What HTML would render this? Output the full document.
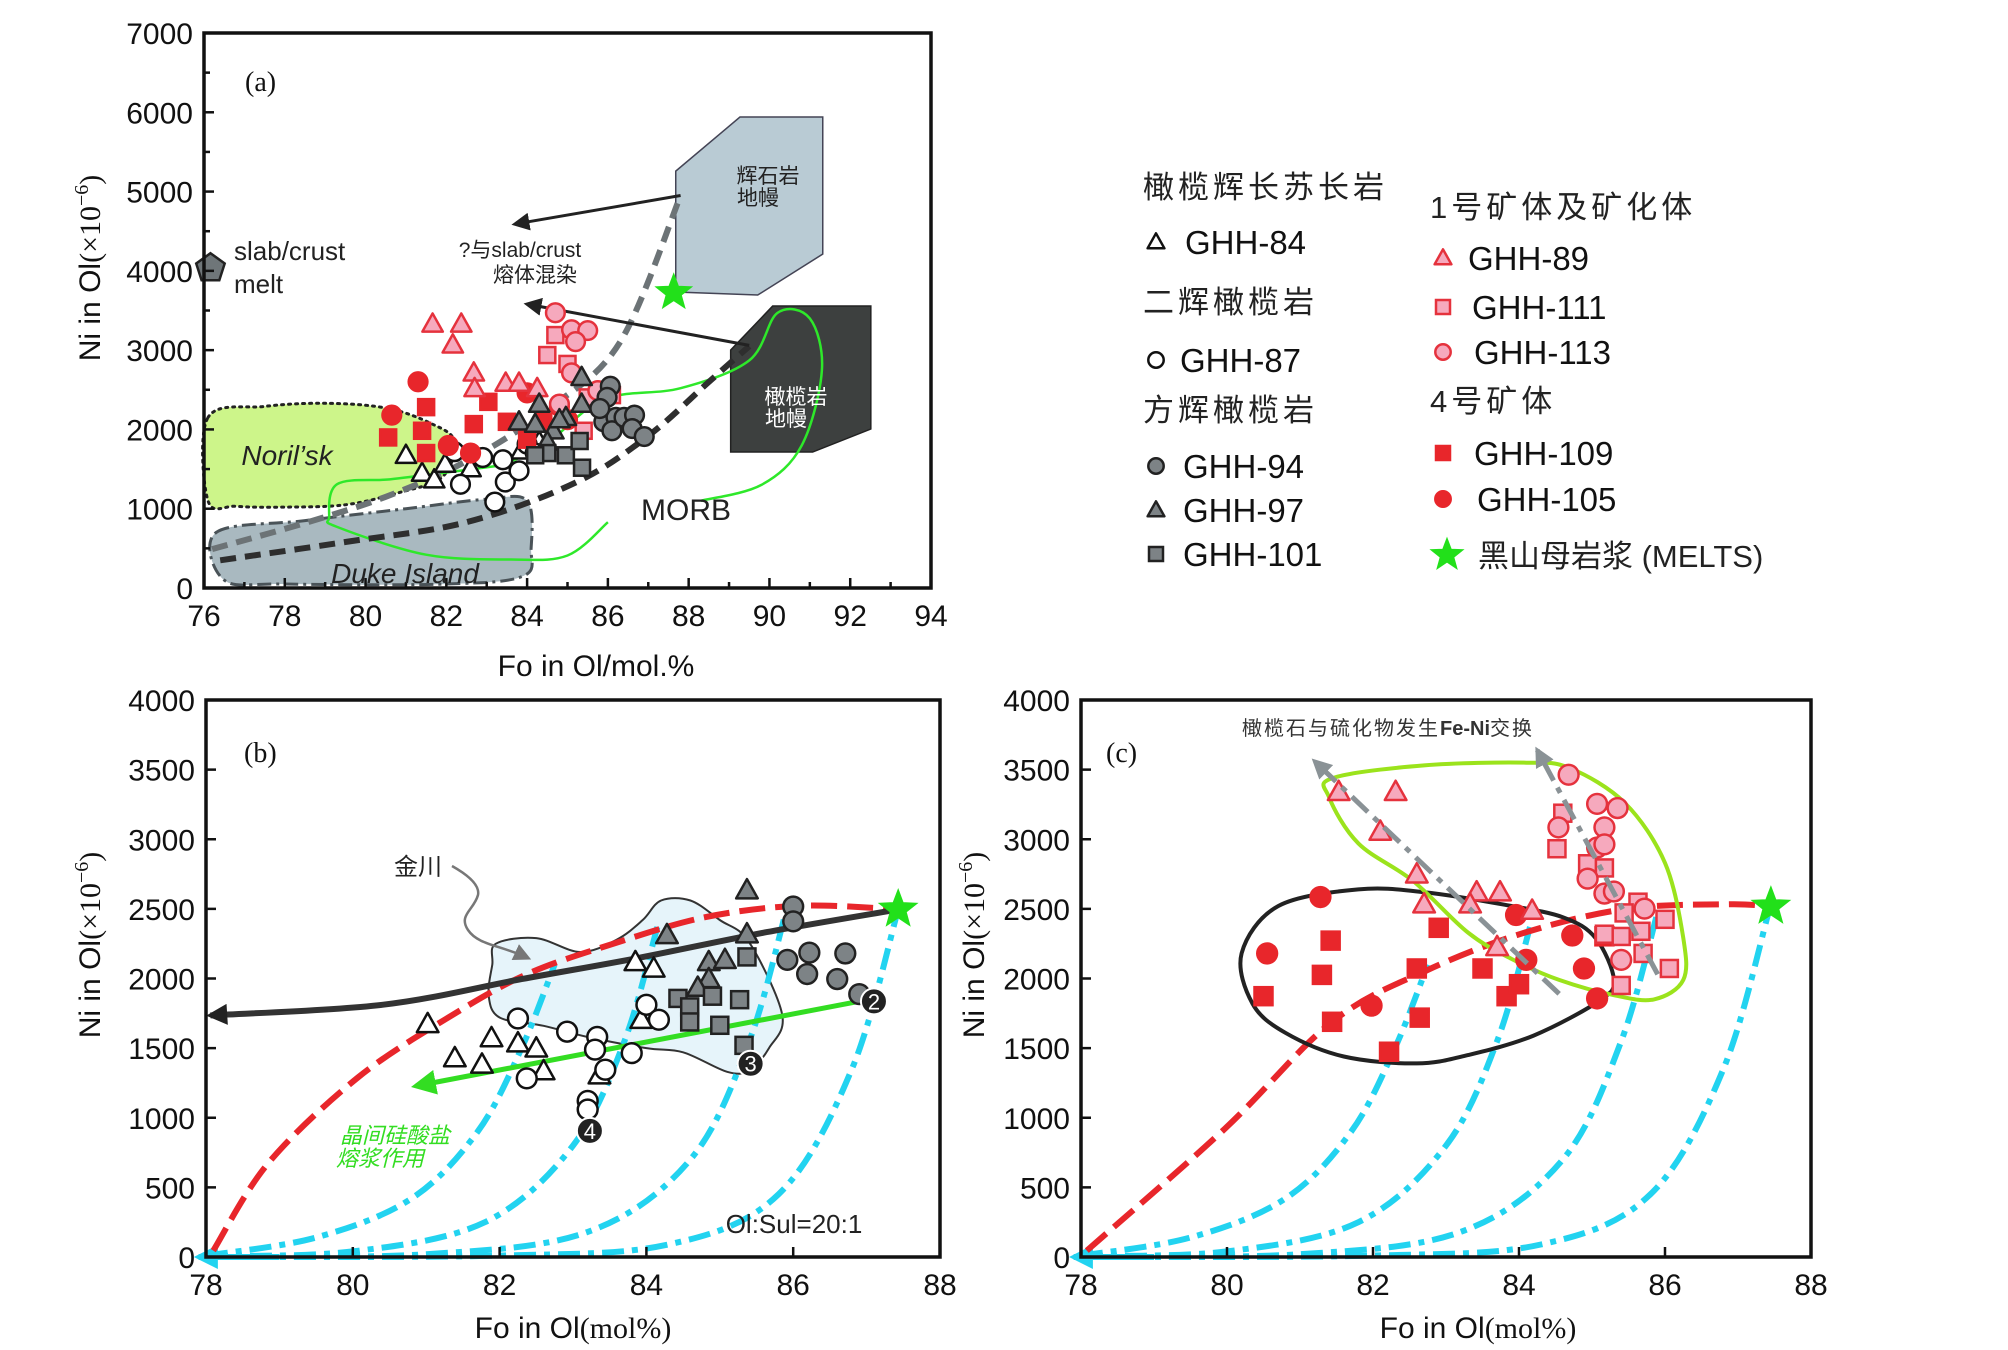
<!DOCTYPE html>
<html><head><meta charset="utf-8">
<style>
html,body{margin:0;padding:0;background:#fff;}
svg{display:block;}
text{font-family:"Liberation Sans","Noto Sans CJK SC",sans-serif;}
.serif{font-family:"Liberation Serif","Noto Serif CJK SC",serif;}
</style></head>
<body>
<svg id="fig" width="2008" height="1350" viewBox="0 0 2008 1350" xmlns="http://www.w3.org/2000/svg">
<defs>
<marker id="ahBlack" viewBox="0 0 10 10" refX="8" refY="5" markerWidth="6" markerHeight="6" orient="auto-start-reverse"><path d="M0,0 L10,5 L0,10 z" fill="#222"/></marker>
<marker id="ahBlackSm" viewBox="0 0 10 10" refX="8" refY="5" markerWidth="4" markerHeight="3.5" orient="auto-start-reverse"><path d="M0,0 L10,5 L0,10 z" fill="#222"/></marker>
<marker id="ahGreen" viewBox="0 0 10 10" refX="8" refY="5" markerWidth="5" markerHeight="5" orient="auto-start-reverse"><path d="M0,0 L10,5 L0,10 z" fill="#33dd22"/></marker>
<marker id="ahGray" viewBox="0 0 10 10" refX="8" refY="5" markerWidth="4" markerHeight="4" orient="auto-start-reverse"><path d="M0,0 L10,5 L0,10 z" fill="#8a9296"/></marker>
<marker id="ahGrayLine" viewBox="0 0 10 10" refX="8" refY="5" markerWidth="7" markerHeight="7" orient="auto-start-reverse"><path d="M0,0 L10,5 L0,10 z" fill="#777"/></marker>
<marker id="ahCyan" viewBox="0 0 10 10" refX="8" refY="5" markerWidth="4" markerHeight="4" orient="auto-start-reverse"><path d="M0,0 L10,5 L0,10 z" fill="#22d3f0"/></marker>
</defs>
<g id="pa"></g>
<g id="pb"></g>
<g id="pc"></g>
<g id="legend"></g>
</svg>
<script>
// ---------- Panel (a) data ----------
const aXTicks = [76,78,80,82,84,86,88,90,92,94];
const aYTicks = [0,1000,2000,3000,4000,5000,6000,7000];
const aGHH89 = [[81.66,3330],[82.37,3330],[82.16,3067],[82.68,2713],[82.7,2517],[83.47,2585],[83.8,2585],[84.25,2517]];
const aGHH111 = [[84.7,3190],[84.5,2938],[85.0,2826],[85.5,2404],[86.1,2433],[85.4,1983]];
const aGHH113 = [[84.7,3472],[85.1,3258],[85.5,3247],[85.2,3107],[85.1,2713],[84.8,2320],[85.75,2489]];
const aGHH109 = [[80.56,1899],[81.4,1983],[81.5,2281],[82.68,2067],[83.04,2348],[83.5,2096],[81.5,1702],[84.0,1871],[84.4,2096]];
const aGHH105 = [[81.3,2601],[80.65,2180],[82.05,1798],[82.6,1702],[84.0,2461],[84.8,2292],[85.0,2124]];
const aGHH84 = [[81.0,1674],[81.4,1449],[81.7,1365],[81.97,1562],[82.6,1506],[83.86,1730],[84.3,1843]];
const aGHH87 = [[82.2,1719],[82.35,1309],[82.9,1646],[83.4,1618],[83.46,1337],[83.8,1478],[83.2,1084],[84.0,1815],[84.2,1702]];
const aGHH97 = [[83.8,2096],[84.2,2067],[84.3,2320],[84.65,1983],[84.96,2152],[85.35,2657],[85.35,2320],[84.8,2124],[84.5,1843]];
const aGHH101 = [[84.5,1702],[84.96,1674],[85.3,1854],[85.36,1517],[84.2,1674]];
const aGHH94 = [[86.06,2545],[85.98,2404],[85.9,2096],[86.2,2152],[86.1,1983],[86.4,2152],[86.66,2180],[86.6,2011],[86.9,1910],[85.8,2264]];
const aStar = [87.63,3725];
const aSlab = [76.16,4034];
const aPyroxenite = [[87.68,5258],[89.27,5940],[91.32,5940],[91.32,4212],[89.71,3695],[87.68,3733]];
const aPeridotite = [[89.04,3001],[90.08,3556],[92.51,3556],[92.51,2005],[91.07,1715],[89.04,1715]];
const aNorilsk = [[76.1,2150],[77.5,2290],[79,2330],[80.5,2270],[81.6,2080],[82.2,1850],[81.9,1400],[80.8,1200],[79.5,1050],[78.0,1020],[76.8,1030],[76.1,1100]];
const aDuke = [[76.3,700],[78.5,850],[81,1000],[83.0,1120],[84.0,1100],[84.1,500],[83.9,150],[82,50],[78,50],[76.5,100]];
const aMORB = [[83.4,1550],[84.5,1830],[85.9,2380],[87.8,2520],[89.5,2870],[90.2,3470],[91.0,3400],[91.3,2750],[90.8,1800],[89.8,1300],[88.3,1100]];
const aMORB2 = [[86.0,830],[85.0,410],[83.6,360],[81.5,420],[79.3,770],[79.1,900],[79.3,1310],[80.6,1370],[81.9,1450],[83.4,1550]];
const aGrayDash = [[76.2,490],[78.5,820],[80.5,1150],[82.5,1600],[84.5,2250],[86.3,3100],[87.8,4950]];
const aBlackDash = [[76.4,350],[79.5,580],[82.5,830],[85.2,1330],[87.0,1920],[88.5,2600],[89.5,3050]];

// ---------- Panel (b) data ----------
const bXTicks = [78,80,82,84,86,88];
const bYTicks = [0,500,1000,1500,2000,2500,3000,3500,4000];
const bGHH84 = [[81.02,1673],[81.39,1428],[81.76,1382],[81.89,1572],[82.25,1535],[82.5,1498],[82.6,1335],[83.36,1305],[83.93,1704],[83.85,2118],[84.1,2072]];
const bGHH87 = [[82.25,1713],[82.37,1283],[82.92,1618],[83.33,1581],[83.3,1489],[83.44,1345],[83.2,1121],[83.2,1059],[83.8,1464],[84.0,1811],[84.17,1704]];
const bGHH97 = [[85.37,2634],[85.37,2318],[84.28,2312],[84.85,2118],[85.07,2134],[84.85,1996],[84.7,1934]];
const bGHH101 = [[85.37,2155],[84.43,1857],[84.59,1796],[84.9,1873],[85.27,1848],[84.59,1688],[85.0,1664],[85.33,1520]];
const bGHH94 = [[86.0,2517],[86.0,2410],[85.92,2134],[86.22,2186],[86.19,2032],[86.71,2180],[86.6,1996],[86.9,1888]];
const bStar = [87.43,2496];
const bNumbered = [[87.1,1836],[85.42,1388],[83.23,906]];
const bNumberLabels = ["2","3","4"];
const bJinchuan = [[81.95,2250],[82.5,2290],[83.1,2190],[83.6,2280],[83.95,2420],[84.2,2560],[84.6,2560],[85.0,2420],[85.4,2260],[85.85,1740],[85.67,1500],[85.4,1340],[85.1,1330],[84.5,1470],[84.0,1500],[83.2,1580],[82.6,1660],[82.0,1720],[81.85,1880],[81.9,2100]];
const bFractLine = [[87.43,2496],[85.64,2333],[83.9,2149],[82.3,1996],[80.4,1811],[78.06,1735]];
const bRedDash = [[78.1,46],[78.85,675],[80.07,1289],[81.3,1719],[82.35,2026],[83.5,2241],[84.8,2440],[86.1,2523],[87.43,2496]];
const bGreenArrow = [[86.9,1836],[80.86,1228]];

// ---------- Shared mixing curves (b, c) ----------
const mix1 = [[78.0,10],[79.5,140],[80.8,420],[81.7,900],[82.3,1500],[82.75,2100]];
const mix2 = [[78.0,5],[80.0,40],[81.8,250],[83.0,800],[83.7,1550],[84.15,2370]];
const mix3 = [[78.0,0],[81.0,20],[83.2,180],[84.6,700],[85.4,1550],[85.9,2480]];
const mix4 = [[78.0,0],[82.0,10],[84.3,90],[85.8,450],[86.8,1350],[87.43,2496]];

// ---------- Panel (c) data ----------
const cXTicks = [78,80,82,84,86,88];
const cYTicks = [0,500,1000,1500,2000,2500,3000,3500,4000];
const cGHH89 = [[81.53,3340],[82.31,3340],[82.1,3055],[82.6,2748],[82.7,2533],[83.42,2619],[83.74,2619],[84.18,2487],[83.7,2226],[83.33,2533]];
const cGHH111 = [[84.6,3187],[84.52,2932],[84.94,2824],[85.17,2794],[85.63,2548],[85.44,2471],[85.17,2318],[85.4,2302],[85.67,2339],[86.0,2425],[85.7,2180],[86.06,2072],[85.4,1950]];
const cGHH113 = [[84.68,3463],[84.54,3085],[85.07,3254],[85.35,3224],[85.17,3085],[85.07,2941],[85.17,2963],[84.94,2717],[85.17,2610],[85.3,2625],[85.4,2134],[85.72,2502]];
const cGHH109 = [[80.5,1873],[81.3,2026],[81.42,2272],[81.44,1689],[82.22,1474],[82.6,2072],[82.64,1719],[82.9,2364],[83.5,2072],[83.83,1873],[84.0,1959],[85.17,2303]];
const cGHH105 = [[80.55,2180],[81.28,2585],[81.98,1805],[83.96,2456],[84.1,2134],[84.73,2309],[84.89,2072],[85.07,1857]];
const cStar = [87.45,2517];
const cRedDash = [[78.08,46],[79.97,921],[81.44,1689],[82.73,2057],[84.1,2333],[85.5,2502],[86.87,2533],[87.45,2517]];
const cBlackLoop = [[80.2,2180],[80.7,2520],[81.8,2640],[82.7,2620],[83.8,2530],[84.6,2440],[85.05,2290],[85.3,1990],[85.1,1840],[84.2,1590],[83.3,1450],[82.6,1390],[81.6,1440],[80.8,1610],[80.35,1820]];
const cGreenLoop = [[81.45,3440],[82.7,3530],[84.1,3550],[84.7,3510],[85.45,3260],[86.0,2830],[86.25,2290],[86.25,1990],[85.85,1850],[85.3,1880],[84.55,1990],[83.9,2140],[83.3,2330],[82.55,2700],[81.8,2970],[81.4,3300]];
const cGrayArrows = [[[84.55,1890],[81.2,3560]],[[85.9,2030],[84.25,3640]]];

// ---------- helpers ----------
const NS = "http://www.w3.org/2000/svg";
function el(parent, tag, attrs){
  const e = document.createElementNS(NS, tag);
  for (const k in attrs) e.setAttribute(k, attrs[k]);
  parent.appendChild(e);
  return e;
}
function txt(parent, x, y, s, attrs){
  const t = el(parent, "text", Object.assign({x:x, y:y}, attrs||{}));
  t.textContent = s;
  return t;
}
function smooth(pts, closed){
  const n = pts.length;
  if (n < 2) return "";
  let d = "M" + pts[0][0].toFixed(1) + "," + pts[0][1].toFixed(1);
  const get = i => closed ? pts[(i + n) % n] : pts[Math.max(0, Math.min(n - 1, i))];
  const segs = closed ? n : n - 1;
  for (let i = 0; i < segs; i++){
    const p0 = get(i - 1), p1 = get(i), p2 = get(i + 1), p3 = get(i + 2);
    const c1 = [p1[0] + (p2[0] - p0[0]) / 6, p1[1] + (p2[1] - p0[1]) / 6];
    const c2 = [p2[0] - (p3[0] - p1[0]) / 6, p2[1] - (p3[1] - p1[1]) / 6];
    d += " C" + c1[0].toFixed(1) + "," + c1[1].toFixed(1) + " " + c2[0].toFixed(1) + "," + c2[1].toFixed(1) + " " + p2[0].toFixed(1) + "," + p2[1].toFixed(1);
  }
  if (closed) d += " Z";
  return d;
}
const STY = {
  openTri:{shape:"tri", fill:"#fff", stroke:"#111"},
  openCirc:{shape:"circ", fill:"#fff", stroke:"#111"},
  grayCirc:{shape:"circ", fill:"#7d8386", stroke:"#222"},
  grayTri:{shape:"tri", fill:"#7d8386", stroke:"#222"},
  graySq:{shape:"sq", fill:"#7d8386", stroke:"#222"},
  pinkTri:{shape:"tri", fill:"#f6a9bd", stroke:"#e5323d"},
  pinkSq:{shape:"sq", fill:"#f6a9bd", stroke:"#e5323d"},
  pinkCirc:{shape:"circ", fill:"#f6a9bd", stroke:"#e5323d"},
  redSq:{shape:"sq", fill:"#e8262b", stroke:"#e8262b"},
  redCirc:{shape:"circ", fill:"#e8262b", stroke:"#e8262b"}
};
function marker(g, st, x, y, s){
  const sw = 2.5;
  let m;
  if (st.shape === "circ") m = el(g, "circle", {cx:x, cy:y, r:s*0.55, fill:st.fill, stroke:st.stroke, "stroke-width":sw});
  else if (st.shape === "sq") m = el(g, "rect", {x:x - s*0.5, y:y - s*0.5, width:s, height:s, fill:st.fill, stroke:st.stroke, "stroke-width":sw});
  else m = el(g, "polygon", {points:(x) + "," + (y - s*0.62) + " " + (x + s*0.6) + "," + (y + s*0.45) + " " + (x - s*0.6) + "," + (y + s*0.45), fill:st.fill, stroke:st.stroke, "stroke-width":sw, "stroke-linejoin":"round"});
  return m;
}
function star(g, x, y, r){
  let p = [];
  for (let i = 0; i < 10; i++){
    const a = -Math.PI/2 + i*Math.PI/5, rr = i % 2 ? r*0.42 : r;
    p.push((x + rr*Math.cos(a)).toFixed(1) + "," + (y + rr*Math.sin(a)).toFixed(1));
  }
  return el(g, "polygon", {points:p.join(" "), fill:"#22e01a", stroke:"#22e01a", "stroke-width":1});
}
function drawSeries(g, arr, st, sx, sy, size, name){
  const sg = el(g, "g", {});
  
  
  arr.forEach(p => {
    const m = marker(sg, st, sx(p[0]), sy(p[1]), size);
    
    
  });
}
function axes(g, L, T, R, B, xt, yt, sx, sy, minorX, minorY, fs){
  const ag = el(g, "g", {});
  
  
  el(ag, "rect", {x:L, y:T, width:R - L, height:B - T, fill:"none", stroke:"#111", "stroke-width":3.5});
  xt.forEach(v => {
    el(ag, "line", {x1:sx(v), y1:B, x2:sx(v), y2:B - 10, stroke:"#111", "stroke-width":2.5});
    const t = txt(ag, sx(v), B + 38, String(v), {"text-anchor":"middle", "font-size":fs, fill:"#111"});
    
    
  });
  minorX.forEach(v => el(ag, "line", {x1:sx(v), y1:B, x2:sx(v), y2:B - 6, stroke:"#111", "stroke-width":2.5}));
  yt.forEach(v => {
    el(ag, "line", {x1:L, y1:sy(v), x2:L + 10, y2:sy(v), stroke:"#111", "stroke-width":2.5});
    const t = txt(ag, L - 11, sy(v) + 11, String(v), {"text-anchor":"end", "font-size":fs, fill:"#111"});
    
    
  });
  minorY.forEach(v => el(ag, "line", {x1:L, y1:sy(v), x2:L + 6, y2:sy(v), stroke:"#111", "stroke-width":2.5}));
}
function yTitle(g, x, y){
  const t = el(g, "text", {x:x, y:y, transform:"rotate(-90 " + x + " " + y + ")", "text-anchor":"middle", "font-size":30, fill:"#111"});
  t.innerHTML = 'Ni in Ol<tspan class="serif">(×10</tspan><tspan class="serif" dy="-12" font-size="20">−6</tspan><tspan class="serif" dy="12">)</tspan>';
  
  
}

// ================= Panel (a) =================
(function(){
  const g = document.getElementById("pa");
  const L = 204, R = 931, T = 33, B = 588;
  const sx = v => L + (v - 76) * (R - L) / 18;
  const sy = v => B - v * (B - T) / 7000;
  const P = arr => arr.map(p => [sx(p[0]), sy(p[1])]);

  let e;
  e = el(g, "path", {d:smooth(P(aNorilsk), true), fill:"#cdf58a", stroke:"#222", "stroke-width":3, "stroke-dasharray":"2 5", "stroke-linecap":"round"});
   
  e = el(g, "path", {d:smooth(P(aDuke), true), fill:"#a9b9c0", stroke:"#4a5358", "stroke-width":3, "stroke-dasharray":"14 5 3 5"});
   
  e = el(g, "polygon", {points:P(aPyroxenite).map(p => p.join(",")).join(" "), fill:"#b9cbd4", stroke:"#445", "stroke-width":1.5});
   
  e = el(g, "polygon", {points:P(aPeridotite).map(p => p.join(",")).join(" "), fill:"#3d403f", stroke:"#222", "stroke-width":1.5});
   
  e = el(g, "path", {d:smooth(P(aMORB), false), fill:"none", stroke:"#2ee82a", "stroke-width":2.5});
   
  e = el(g, "path", {d:smooth(P(aMORB2), false), fill:"none", stroke:"#2ee82a", "stroke-width":2.5});
   
  e = el(g, "path", {d:smooth(P(aGrayDash), false), fill:"none", stroke:"#6c7376", "stroke-width":6, "stroke-dasharray":"16 9"});
   
  e = el(g, "path", {d:smooth(P(aBlackDash), false), fill:"none", stroke:"#2e2e2e", "stroke-width":6, "stroke-dasharray":"16 9"});
   
  e = el(g, "line", {x1:sx(87.8), y1:sy(4950), x2:sx(83.7), y2:sy(4590), stroke:"#222", "stroke-width":3, "marker-end":"url(#ahBlack)"});
   
  e = el(g, "line", {x1:sx(89.5), y1:sy(3060), x2:sx(84.0), y2:sy(3580), stroke:"#222", "stroke-width":3, "marker-end":"url(#ahBlack)"});
   

  drawSeries(g, aGHH84, STY.openTri, sx, sy, 17, 'ghh84-a');
  drawSeries(g, aGHH87, STY.openCirc, sx, sy, 17, 'ghh87-a');
  drawSeries(g, aGHH109, STY.redSq, sx, sy, 16, 'ghh109-a');
  drawSeries(g, aGHH105, STY.redCirc, sx, sy, 17, 'ghh105-a');
  drawSeries(g, aGHH89, STY.pinkTri, sx, sy, 17, 'ghh89-a');
  drawSeries(g, aGHH111, STY.pinkSq, sx, sy, 16, 'ghh111-a');
  drawSeries(g, aGHH113, STY.pinkCirc, sx, sy, 17, 'ghh113-a');
  drawSeries(g, aGHH97, STY.grayTri, sx, sy, 17, 'ghh97-a');
  drawSeries(g, aGHH101, STY.graySq, sx, sy, 16, 'ghh101-a');
  drawSeries(g, aGHH94, STY.grayCirc, sx, sy, 17, 'ghh94-a');

  e = star(g, sx(aStar[0]), sy(aStar[1]), 19);
   
  const px = sx(aSlab[0]), py = sy(aSlab[1]);
  let pp = [];
  for (let i = 0; i < 5; i++){ const a = -Math.PI/2 + i*2*Math.PI/5; pp.push((px + 15*Math.cos(a)).toFixed(1) + "," + (py + 15*Math.sin(a)).toFixed(1)); }
  e = el(g, "polygon", {points:pp.join(" "), fill:"#6f7679", stroke:"#222", "stroke-width":2.5});
   

  axes(g, L, T, R, B, aXTicks, aYTicks, sx, sy, [77,79,81,83,85,87,89,91,93], [500,1500,2500,3500,4500,5500,6500], 30);

  const labs = [
    [234, 260, "slab/crust", 26, "start", "#222", ""],
    [234, 293, "melt", 26, "start", "#222", ""],
    [520, 257, "?与slab/crust", 21, "middle", "#222", ""],
    [535, 282, "熔体混染", 21, "middle", "#222", ""],
    [768, 183, "辉石岩", 21, "middle", "#222", ""],
    [758, 205, "地幔", 21, "middle", "#222", ""],
    [796, 404, "橄榄岩", 21, "middle", "#fff", ""],
    [786, 426, "地幔", 21, "middle", "#fff", ""],
    [686, 520, "MORB", 30, "middle", "#222", ""],
    [287, 465, "Noril’sk", 28, "middle", "#222", "italic"],
    [405, 583, "Duke Island", 28, "middle", "#222", "italic"]
  ];
  labs.forEach(l => {
    const t = txt(g, l[0], l[1], l[2], {"font-size":l[3], "text-anchor":l[4], fill:l[5], "font-style":l[6] || "normal"});
    
    
  });
  e = txt(g, 245, 91, "(a)", {"font-size":28, "class":"serif", fill:"#111"});
   
  yTitle(g, 100, 268);
  e = txt(g, 596, 676, "Fo in Ol/mol.%", {"font-size":30, "text-anchor":"middle", fill:"#111"});
   
})();

function drawMixing(g, sx, sy, redArr){
  const P = arr => arr.map(p => [sx(p[0]), sy(p[1])]);
  [mix1, mix2, mix3, mix4].forEach((m, i) => {
    const e = el(g, "path", {d:smooth(P(m), false), fill:"none", stroke:"#22d3f0", "stroke-width":6, "stroke-dasharray":"22 8 6 8"});
    
    
  });
  const a = el(g, "line", {x1:sx(79.0), y1:sy(0), x2:sx(77.9), y2:sy(0), stroke:"#22d3f0", "stroke-width":6, "marker-end":"url(#ahCyan)"});
   
  const r = el(g, "path", {d:smooth(P(redArr), false), fill:"none", stroke:"#e8262b", "stroke-width":6, "stroke-dasharray":"26 10"});
   
}

// ================= Panel (b) =================
(function(){
  const g = document.getElementById("pb");
  const L = 206, R = 940, T = 700, B = 1257;
  const sx = v => L + (v - 78) * (R - L) / 10;
  const sy = v => B - v * (B - T) / 4000;
  const P = arr => arr.map(p => [sx(p[0]), sy(p[1])]);
  let e;
  e = el(g, "path", {d:smooth(P(bJinchuan), true), fill:"#e6f4fa", stroke:"#333", "stroke-width":2});
   
  e = el(g, "path", {d:"M452,866 C468,875 480,885 478,895 C474,910 458,915 468,930 C478,945 500,945 528,958", fill:"none", stroke:"#777", "stroke-width":2.5, "marker-end":"url(#ahGrayLine)"});
   
  drawMixing(g, sx, sy, bRedDash);
  e = el(g, "path", {d:smooth(P(bFractLine), false), fill:"none", stroke:"#333", "stroke-width":6, "marker-end":"url(#ahBlackSm)"});
   
  e = el(g, "line", {x1:sx(bGreenArrow[0][0]), y1:sy(bGreenArrow[0][1]), x2:sx(bGreenArrow[1][0]), y2:sy(bGreenArrow[1][1]), stroke:"#33dd22", "stroke-width":5, "marker-end":"url(#ahGreen)"});
   

  drawSeries(g, bGHH84, STY.openTri, sx, sy, 18, 'ghh84-b');
  drawSeries(g, bGHH87, STY.openCirc, sx, sy, 18, 'ghh87-b');
  drawSeries(g, bGHH97, STY.grayTri, sx, sy, 18, 'ghh97-b');
  drawSeries(g, bGHH101, STY.graySq, sx, sy, 17, 'ghh101-b');
  drawSeries(g, bGHH94, STY.grayCirc, sx, sy, 18, 'ghh94-b');

  bNumbered.forEach((p, i) => {
    const c = el(g, "circle", {cx:sx(p[0]), cy:sy(p[1]), r:13, fill:"#222", stroke:"#fff", "stroke-width":2});
     
    const t = txt(g, sx(p[0]), sy(p[1]) + 8, bNumberLabels[i], {"font-size":22, "text-anchor":"middle", fill:"#fff"});
     
  });
  e = star(g, sx(bStar[0]), sy(bStar[1]), 20);
   

  axes(g, L, T, R, B, bXTicks, bYTicks, sx, sy, [], [], 30);
  e = txt(g, 244, 762, "(b)", {"font-size":28, "class":"serif", fill:"#111"});
   
  e = txt(g, 418, 875, "金川", {"font-size":24, "text-anchor":"middle", fill:"#222"});
   
  e = txt(g, 340, 1143, "晶间硅酸盐", {"font-size":22, fill:"#33dd22", "font-style":"italic"});
   
  e = txt(g, 336, 1166, "熔浆作用", {"font-size":22, fill:"#33dd22", "font-style":"italic"});
   
  e = txt(g, 794, 1233, "Ol:Sul=20:1", {"font-size":26, "text-anchor":"middle", fill:"#222"});
   
  yTitle(g, 100, 945);
  e = el(g, "text", {x:573, y:1338, "text-anchor":"middle", "font-size":30, fill:"#111"});
  e.innerHTML = 'Fo in Ol<tspan class="serif">(mol%)</tspan>';
   
})();

// ================= Panel (c) =================
(function(){
  const g = document.getElementById("pc");
  const L = 1081, R = 1811, T = 700, B = 1257;
  const sx = v => L + (v - 78) * (R - L) / 10;
  const sy = v => B - v * (B - T) / 4000;
  const P = arr => arr.map(p => [sx(p[0]), sy(p[1])]);
  let e;
  drawMixing(g, sx, sy, cRedDash);
  e = el(g, "path", {d:smooth(P(cBlackLoop), true), fill:"none", stroke:"#222", "stroke-width":4});
   
  e = el(g, "path", {d:smooth(P(cGreenLoop), true), fill:"none", stroke:"#9be31c", "stroke-width":4});
   

  drawSeries(g, cGHH109, STY.redSq, sx, sy, 18, 'ghh109-c');
  drawSeries(g, cGHH105, STY.redCirc, sx, sy, 18, 'ghh105-c');
  drawSeries(g, cGHH89, STY.pinkTri, sx, sy, 18, 'ghh89-c');
  drawSeries(g, cGHH111, STY.pinkSq, sx, sy, 17, 'ghh111-c');
  drawSeries(g, cGHH113, STY.pinkCirc, sx, sy, 18, 'ghh113-c');

  cGrayArrows.forEach(a => {
    const l = el(g, "line", {x1:sx(a[0][0]), y1:sy(a[0][1]), x2:sx(a[1][0]), y2:sy(a[1][1]), stroke:"#8a9296", "stroke-width":5, "stroke-dasharray":"22 8 6 8", "marker-end":"url(#ahGray)"});
    
    
  });
  e = star(g, sx(cStar[0]), sy(cStar[1]), 20);
   

  axes(g, L, T, R, B, cXTicks, cYTicks, sx, sy, [], [], 30);
  e = txt(g, 1106, 762, "(c)", {"font-size":28, "class":"serif", fill:"#111"});
   
  e = el(g, "text", {x:1242, y:735, "font-size":20, fill:"#333", "letter-spacing":"2"});
  e.innerHTML = '橄榄石与硫化物发生<tspan font-weight="bold" letter-spacing="0">Fe-Ni</tspan>交换';
   
  yTitle(g, 984, 945);
  e = el(g, "text", {x:1478, y:1338, "text-anchor":"middle", "font-size":30, fill:"#111"});
  e.innerHTML = 'Fo in Ol<tspan class="serif">(mol%)</tspan>';
   
})();

// ================= Legend =================
(function(){
  const g = document.getElementById("legend");
  const D = -20;
  const heads = [[1163,198,"橄榄辉长苏长岩"],[1163,313,"二辉橄榄岩"],[1163,421,"方辉橄榄岩"],[1450,218,"1号矿体及矿化体"],[1450,412,"4号矿体"]];
  heads.forEach(h => {
    const t = txt(g, h[0] + D, h[1], h[2], {"font-size":31, fill:"#222", "letter-spacing":"4"});
    
    
  });
  const items = [
    [1176,242,STY.openTri,"GHH-84",1205],
    [1176,360,STY.openCirc,"GHH-87",1200],
    [1176,466,STY.grayCirc,"GHH-94",1203],
    [1176,510,STY.grayTri,"GHH-97",1203],
    [1176,554,STY.graySq,"GHH-101",1203],
    [1463,258,STY.pinkTri,"GHH-89",1488],
    [1463,307,STY.pinkSq,"GHH-111",1492],
    [1463,352,STY.pinkCirc,"GHH-113",1494],
    [1463,453,STY.redSq,"GHH-109",1494],
    [1463,499,STY.redCirc,"GHH-105",1497]
  ];
  items.forEach(it => {
    const eg = el(g, "g", {});
    
    
    marker(eg, it[2], it[0] + D, it[1], 14);
    txt(eg, it[4] + D, it[1] + 12, it[3], {"font-size":33, fill:"#111"});
  });
  const sg = el(g, "g", {});
  
  
  star(sg, 1467 + D, 555, 17);
  txt(sg, 1498 + D, 567, "黑山母岩浆 (MELTS)", {"font-size":31, fill:"#222"});
})();
</script>
</body></html>
